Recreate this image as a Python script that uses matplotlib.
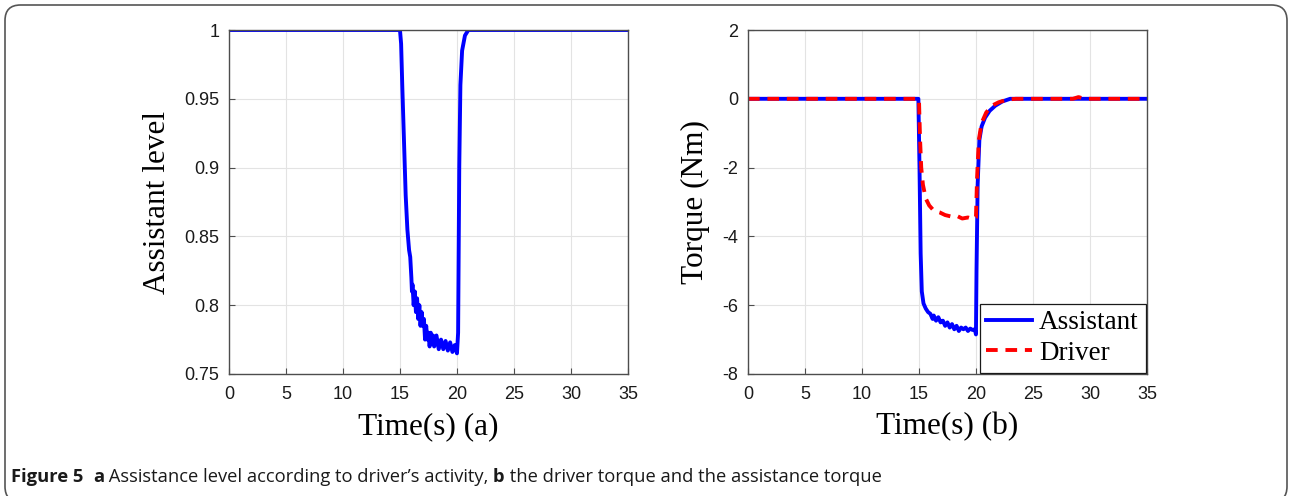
import matplotlib
matplotlib.use("Agg")
import matplotlib.pyplot as plt
from matplotlib.patches import FancyBboxPatch

plt.rcParams['axes.unicode_minus'] = False

# ----------------------------------------
# data
# ----------------------------------------
t_level = [0, 15.0, 15.1, 15.2, 15.35, 15.5, 15.65, 15.8, 15.9, 16.0, 16.05, 16.1,
           16.2, 16.3, 16.4, 16.5, 16.6, 16.7, 16.8, 16.9, 17.0, 17.1, 17.2, 17.3,
           17.4, 17.5, 17.6, 17.7, 17.8, 17.9, 18.0, 18.2, 18.4, 18.6, 18.8, 19.0,
           19.2, 19.4, 19.6, 19.8, 20.0, 20.1, 20.2, 20.3, 20.45, 20.7, 21.0, 35]
assist_level = [1.0, 1.0, 0.99, 0.96, 0.92, 0.88, 0.855, 0.84, 0.835, 0.82, 0.81, 0.815,
                0.80, 0.81, 0.795, 0.805, 0.79, 0.80, 0.785, 0.795, 0.785, 0.79, 0.775, 0.785,
                0.775, 0.78, 0.77, 0.78, 0.772, 0.778, 0.77, 0.778, 0.768, 0.775, 0.768, 0.774,
                0.767, 0.773, 0.766, 0.771, 0.765, 0.78, 0.90, 0.96, 0.985, 0.996, 1.0, 1.0]

t_assist = [0, 14.95, 15.05, 15.15, 15.25, 15.4, 15.6, 15.8, 16.0, 16.2, 16.3, 16.5,
            16.7, 16.9, 17.1, 17.3, 17.5, 17.7, 17.9, 18.1, 18.3, 18.5, 18.7, 18.9,
            19.1, 19.3, 19.5, 19.7, 19.9, 20.0, 20.05, 20.15, 20.3, 20.5, 20.8, 21.2,
            21.7, 22.3, 23.0, 35]
torque_assist = [0, 0, -2.0, -4.5, -5.6, -5.95, -6.1, -6.2, -6.25, -6.4, -6.3, -6.45,
                 -6.35, -6.5, -6.45, -6.6, -6.5, -6.65, -6.55, -6.7, -6.6, -6.75, -6.65, -6.7,
                 -6.65, -6.75, -6.68, -6.72, -6.7, -6.85, -5.0, -2.5, -1.2, -0.8, -0.55, -0.35,
                 -0.2, -0.08, 0, 0]

t_driver = [0, 15.0, 15.1, 15.2, 15.35, 15.6, 15.9, 16.3, 16.8, 17.3, 17.8, 18.3,
            18.8, 19.3, 19.8, 20.0, 20.1, 20.25, 20.5, 20.9, 21.4, 22.0, 22.8, 23.5,
            28.5, 29.0, 29.5, 35]
torque_driver = [0, 0, -1.2, -2.0, -2.5, -2.9, -3.1, -3.25, -3.3, -3.38, -3.42, -3.4,
                 -3.48, -3.45, -3.5, -3.45, -2.3, -1.2, -0.7, -0.4, -0.2, -0.1, -0.02, 0,
                 0, 0.05, 0, 0]

x_ticks = [0, 5, 10, 15, 20, 25, 30, 35]
level_ticks = [0.75, 0.8, 0.85, 0.9, 0.95, 1]
level_labels = ["0.75", "0.8", "0.85", "0.9", "0.95", "1"]
torque_ticks = [-8, -6, -4, -2, 0, 2]

SERIF = "Liberation Serif"
SANS = "Liberation Sans"
AX_COL = "#4d4d4d"


def style_axes(ax):
    ax.grid(True, color="#e3e3e3", linewidth=0.8)
    ax.set_axisbelow(True)
    for s in ax.spines.values():
        s.set_color(AX_COL)
        s.set_linewidth(1.0)
    ax.tick_params(direction="in", length=4, width=0.8, color=AX_COL,
                   labelsize=13, labelcolor="#1a1a1a")
    ax.tick_params(axis="x", pad=9)
    ax.tick_params(axis="y", pad=7)
    for lab in ax.get_xticklabels() + ax.get_yticklabels():
        lab.set_fontfamily(SANS)


fig = plt.figure(figsize=(12.9, 4.96), dpi=100)

# (a) assistance level
ax1 = fig.add_axes([0.1775, 0.2460, 0.3093, 0.6935])
ax1.plot(t_level, assist_level, color="#0000ff", linewidth=2.8)
ax1.set_xlim(0, 35)
ax1.set_ylim(0.75, 1.0)
ax1.set_xticks(x_ticks)
ax1.set_yticks(level_ticks)
ax1.set_yticklabels(level_labels)
style_axes(ax1)
ax1.set_xlabel("Time(s) (a)", fontfamily=SERIF, fontsize=22.5, labelpad=6)
ax1.set_ylabel("Assistant level", fontfamily=SERIF, fontsize=22.5, labelpad=9)

# (b) torques
ax2 = fig.add_axes([0.5798, 0.2460, 0.3093, 0.6935])
ax2.plot(t_assist, torque_assist, color="#0000ff", linewidth=2.8, label="Assistant")
ax2.plot(t_driver, torque_driver, color="#ff0000", linewidth=2.8,
         linestyle=(0, (3.0, 2.0)), label="Driver")
ax2.set_xlim(0, 35)
ax2.set_ylim(-8, 2)
ax2.set_xticks(x_ticks)
ax2.set_yticks(torque_ticks)
style_axes(ax2)
ax2.set_xlabel("Time(s) (b)", fontfamily=SERIF, fontsize=22.5, labelpad=6)
ax2.set_ylabel("Torque (Nm)", fontfamily=SERIF, fontsize=22.5, labelpad=9)
leg = ax2.legend(loc="lower right", prop={"family": SERIF, "size": 19.5},
                 fancybox=False, edgecolor="#1a1a1a", framealpha=1,
                 borderaxespad=0.05, handlelength=1.7, handletextpad=0.25,
                 borderpad=0.25, labelspacing=0.2)
leg.get_frame().set_linewidth(0.9)

# rounded frame around the whole figure (bottom edge runs off the picture)
frame = FancyBboxPatch((5 / 1290, -6 / 496), 1282 / 1290, 497 / 496,
                       boxstyle="round,pad=0,rounding_size=0.012",
                       transform=fig.transFigure, facecolor="none",
                       edgecolor="#555555", linewidth=1.2, mutation_aspect=1290 / 496)
fig.patches.append(frame)

# caption, with bold pieces; size fitted to the caption width
cap_parts = [("Figure 5", "bold"), ("  ", "normal"), ("a", "bold"),
             (" Assistance level according to driver\u2019s activity, ", "normal"),
             ("b", "bold"), (" the driver torque and the assistance torque", "normal")]
renderer = fig.canvas.get_renderer()


def draw_caption(size):
    x_px = 11
    texts = []
    for txt, w in cap_parts:
        t = fig.text(x_px / 1290, 1 - 482 / 496, txt, fontfamily="Open Sans",
                     fontsize=size, fontweight=w, color="#1a1a1a",
                     ha="left", va="baseline")
        x_px += t.get_window_extent(renderer=renderer).width
        texts.append(t)
    return texts, x_px - 11


texts, width = draw_caption(11)
for t in texts:
    t.remove()
draw_caption(11 * 877 / width)

fig.savefig("out.png", dpi=100)
